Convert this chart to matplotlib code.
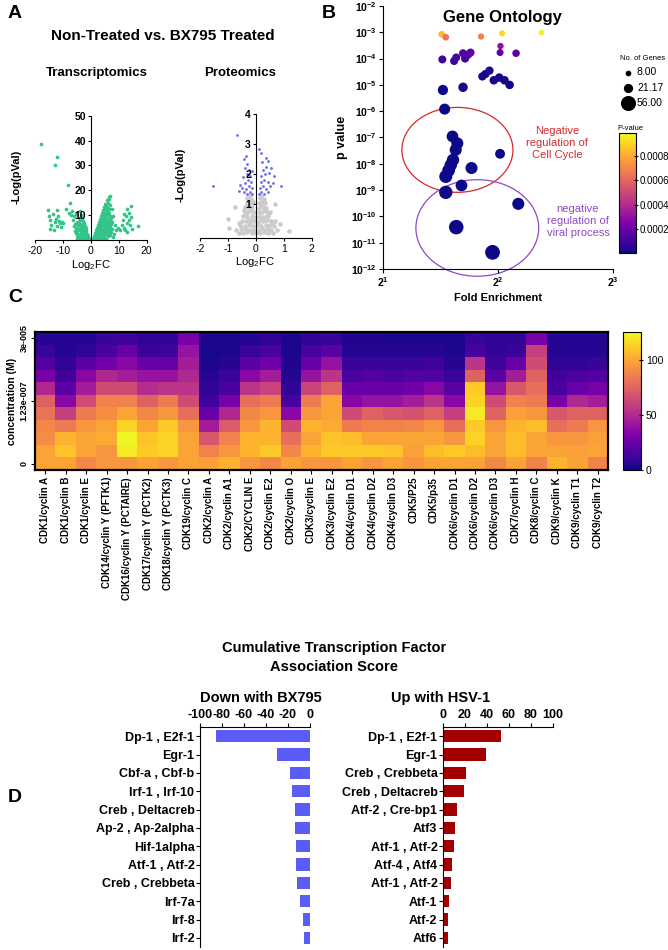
import matplotlib
matplotlib.use('Agg')
import matplotlib.pyplot as plt
import numpy as np
from matplotlib.patches import Ellipse

plt.rcParams['font.family'] = ['Liberation Sans', 'DejaVu Sans']
plt.rcParams['mathtext.fontset'] = 'custom'
plt.rcParams['mathtext.rm'] = 'Liberation Sans'
plt.rcParams['mathtext.bf'] = 'Liberation Sans:bold'
plt.rcParams['axes.unicode_minus'] = False

# ---------------- data ----------------
# A: transcriptomics volcano (log2FC, -log p)
tx_green = [
    (0.9, 0.3), (1.6, 0.8), (2.4, 0.4), (3.1, 1.0), (3.9, 0.6), (4.8, 0.9), (5.6, 0.5),
    (1.2, 1.6), (2.0, 1.9), (2.8, 1.4), (3.5, 2.1), (4.3, 1.7), (5.1, 2.2), (6.0, 1.5), (6.9, 1.9),
    (1.5, 2.8), (2.3, 3.1), (3.1, 2.6), (3.9, 3.3), (4.7, 2.9), (5.5, 3.4), (6.3, 2.7), (7.3, 3.2),
    (1.9, 3.9), (2.7, 4.3), (3.5, 3.8), (4.3, 4.5), (5.1, 4.0), (5.9, 4.6), (6.7, 4.1), (7.7, 4.4),
    (2.2, 5.0), (3.0, 5.4), (3.8, 4.9), (4.6, 5.6), (5.4, 5.1), (6.2, 5.7), (7.0, 5.3),
    (2.5, 6.1), (3.3, 6.5), (4.1, 6.0), (4.9, 6.7), (5.7, 6.2), (6.5, 6.8), (7.3, 6.4),
    (2.9, 7.3), (3.7, 7.6), (4.5, 7.1), (5.3, 7.8), (6.1, 7.3), (6.9, 7.9),
    (3.2, 8.4), (4.0, 8.7), (4.8, 8.2), (5.6, 8.9), (6.4, 8.4), (7.1, 9.0),
    (3.6, 9.5), (4.4, 9.9), (5.2, 9.4), (6.0, 10.1), (6.8, 9.6),
    (3.9, 10.7), (4.7, 11.0), (5.5, 10.6), (6.3, 11.2),
    (4.3, 11.9), (5.1, 12.3), (5.9, 11.8), (6.6, 12.4),
    (4.8, 13.2), (5.6, 13.6), (6.3, 13.0),
    (5.2, 14.3), (6.0, 14.8), (6.7, 14.2),
    (5.9, 15.9), (6.6, 16.4), (7.0, 17.8), (6.4, 17.2),
    (8.3, 2.4), (9.1, 3.9), (8.6, 6.1), (7.9, 9.6), (7.6, 12.6), (9.6, 4.8), (8.0, 1.2),
    (1.3, 0.9), (2.1, 2.4), (2.9, 3.6), (3.4, 5.9), (4.2, 8.0), (4.6, 10.4), (5.0, 3.1),
    (5.8, 7.0), (6.5, 10.8), (7.5, 7.4), (2.6, 0.9), (4.0, 2.4), (5.3, 5.9), (6.2, 4.1),
    (-0.8, 0.4), (-1.6, 0.7), (-2.4, 0.3), (-3.2, 0.8), (-4.1, 0.5), (-5.0, 0.6),
    (-1.0, 1.5), (-1.8, 1.8), (-2.6, 1.3), (-3.4, 1.9), (-4.2, 1.4), (-5.1, 1.7),
    (-1.3, 2.6), (-2.1, 2.9), (-2.9, 2.4), (-3.7, 3.0), (-4.5, 2.5), (-5.4, 2.8),
    (-1.6, 3.6), (-2.4, 3.9), (-3.2, 3.4), (-4.0, 4.0), (-4.8, 3.5), (-5.8, 3.8),
    (-1.9, 4.7), (-2.7, 4.4), (-3.5, 4.9), (-4.3, 4.5), (-5.2, 4.8),
    (-2.2, 5.6), (-3.0, 5.9), (-3.8, 5.4), (-4.6, 6.0), (-6.0, 5.5),
    (-2.6, 6.7), (-3.4, 6.4), (-4.2, 7.0), (-5.5, 6.6),
    (-2.9, 7.6), (-3.8, 7.9), (-4.8, 7.4), (-6.4, 8.2),
    (-3.3, 8.7), (-4.4, 9.0), (-5.9, 9.6),
    (-3.6, 10.2), (-5.2, 10.5), (-7.0, 10.0), (-4.0, 11.6), (-6.6, 11.8),
    (-1.2, 0.9), (-2.0, 2.3), (-2.8, 3.3), (-3.1, 5.1), (-3.9, 6.6), (-1.4, 0.2), (-3.6, 1.1),
    (-15.5, 12.2), (-14.8, 8.1), (-14.1, 6.0), (-13.5, 10.6), (-13.0, 7.2), (-12.5, 8.6),
    (-12.0, 5.6), (-11.5, 7.6), (-11.0, 6.9), (-10.4, 7.4), (-9.9, 7.0), (-12.2, 12.1),
    (-14.5, 4.6), (-13.2, 4.0), (-15.0, 9.5), (-11.8, 9.8), (-10.8, 5.1),
    (-18.0, 38.6), (-12.0, 33.2), (-12.8, 30.1), (-8.2, 22.0), (-7.3, 15.0), (-8.8, 12.6), (-7.8, 10.8),
    (11.0, 6.2), (11.5, 8.0), (12.0, 5.0), (12.5, 9.5), (13.0, 7.0), (13.5, 11.0), (14.0, 6.1),
    (14.2, 13.6), (14.5, 9.1), (12.1, 4.0), (13.0, 3.4), (11.8, 10.5), (16.8, 5.6), (14.8, 4.5),
    (10.5, 4.2), (13.8, 8.2), (12.8, 12.3),
]
tx_grey = [(-0.6, 0.2), (0.3, 0.3), (-0.2, 0.6), (0.6, 0.8), (-1.1, 0.1), (1.2, 0.2),
           (0.0, 0.1), (-0.4, 1.0), (0.8, 0.5), (-1.5, 0.3)]

# A: proteomics volcano
pr_grey = [
    (-0.6, 0.05), (-0.45, 0.04), (-0.3, 0.07), (-0.15, 0.03), (0.0, 0.06), (0.15, 0.04), (0.3, 0.08), (0.45, 0.05), (0.6, 0.03),
    (-0.7, 0.16), (-0.5, 0.14), (-0.35, 0.17), (-0.2, 0.13), (-0.05, 0.16), (0.1, 0.14), (0.25, 0.17), (0.4, 0.15), (0.55, 0.13), (0.75, 0.16),
    (-0.55, 0.3), (-0.4, 0.28), (-0.25, 0.32), (-0.1, 0.29), (0.05, 0.31), (0.2, 0.28), (0.35, 0.32), (0.5, 0.3), (0.65, 0.27),
    (-0.5, 0.45), (-0.35, 0.43), (-0.2, 0.47), (-0.05, 0.44), (0.1, 0.46), (0.25, 0.43), (0.4, 0.47), (0.55, 0.44),
    (-0.45, 0.6), (-0.3, 0.58), (-0.15, 0.62), (0.0, 0.59), (0.15, 0.61), (0.3, 0.58), (0.45, 0.62),
    (-0.4, 0.75), (-0.28, 0.73), (-0.15, 0.77), (-0.05, 0.74), (0.1, 0.76), (0.22, 0.73), (0.35, 0.77), (0.5, 0.74),
    (-0.38, 0.9), (-0.25, 0.88), (-0.12, 0.92), (0.12, 0.89), (0.25, 0.91), (0.38, 0.88),
    (-0.33, 1.05), (-0.2, 1.03), (-0.1, 1.07), (0.1, 1.04), (0.2, 1.06), (0.33, 1.03),
    (-0.3, 1.2), (-0.18, 1.18), (0.15, 1.21), (0.28, 1.19),
    (-0.22, 1.3), (0.2, 1.28),
    (-0.52, 0.22), (0.58, 0.36), (-0.22, 0.38), (0.18, 0.52), (-0.36, 0.68), (0.32, 0.84),
    (-0.18, 0.82), (0.06, 0.38), (-0.08, 0.52), (0.42, 0.22), (-0.62, 0.38), (0.7, 0.45),
    (-0.27, 0.97), (0.18, 0.97), (-0.24, 1.12), (0.26, 1.12), (-0.42, 0.82), (0.44, 0.68),
    (-1.0, 0.5), (0.85, 0.35), (-0.95, 0.2), (1.2, 0.1), (-0.75, 0.9), (0.7, 1.0),
]
pr_blue = [
    (-0.12, 1.35), (-0.2, 1.42), (-0.3, 1.35), (-0.42, 1.4), (-0.15, 1.55), (-0.25, 1.6),
    (-0.35, 1.5), (-0.5, 1.55), (-0.18, 1.75), (-0.28, 1.8), (-0.4, 1.7), (-0.55, 1.65),
    (-0.2, 1.95), (-0.32, 2.0), (-0.45, 1.9), (-0.25, 2.15), (-0.38, 2.2), (-0.3, 2.35),
    (-0.42, 2.5), (-0.35, 2.6), (-0.15, 2.1), (-0.6, 1.45), (-0.68, 3.3), (-1.54, 1.62),
    (0.12, 1.35), (0.2, 1.42), (0.3, 1.35), (0.42, 1.4), (0.15, 1.55), (0.25, 1.6),
    (0.38, 1.5), (0.5, 1.6), (0.18, 1.75), (0.3, 1.8), (0.42, 1.75), (0.6, 1.7),
    (0.2, 1.95), (0.32, 2.0), (0.48, 2.05), (0.25, 2.15), (0.38, 2.25), (0.55, 2.2),
    (0.22, 2.4), (0.35, 2.55), (0.45, 2.45), (0.12, 2.86), (0.2, 2.7), (0.9, 1.6), (0.65, 1.95),
]

# B: gene ontology bubbles
go_fold = [2.85, 2.92, 3.61, 4.10, 5.20, 4.06, 4.05, 4.46, 2.86, 3.07, 3.11, 3.24, 3.28, 3.34, 3.39,
           3.64, 3.71, 3.80, 3.90, 4.03, 4.16, 4.29, 2.87, 3.24, 2.90,
           3.04, 3.13, 3.10, 4.05, 3.05, 3.01, 3.41, 2.97, 2.92, 3.21, 2.92,
           4.52, 3.11, 3.87]
go_p = [8.4e-4, 6.5e-4, 6.9e-4, 9.1e-4, 9.7e-4, 3.0e-4, 1.7e-4, 1.6e-4, 9.3e-5, 8.1e-5, 1.1e-4, 1.6e-4, 1.0e-4, 1.4e-4, 1.7e-4,
        2.1e-5, 2.6e-5, 3.5e-5, 1.5e-5, 1.9e-5, 1.5e-5, 1.0e-5, 6.4e-6, 8.1e-6, 1.2e-6,
        1.1e-7, 6.0e-8, 3.4e-8, 2.4e-8, 1.4e-8, 9.0e-9, 6.9e-9, 5.6e-9, 3.3e-9, 1.5e-9, 8.2e-10,
        3.0e-10, 3.9e-11, 4.3e-12]
go_genes = [11, 11, 10, 9, 8, 10, 12, 14, 16, 16, 16, 16, 16, 16, 16,
            17, 17, 17, 18, 18, 18, 18, 26, 22, 30,
            34, 36, 36, 24, 38, 38, 36, 40, 42, 34, 44,
            36, 52, 54]
legend_genes = [8.00, 21.17, 56.00]

# C: kinase heatmap, one list per kinase, rows from 3e-5 M down to 0
kinases = ['CDK1/cyclin A', 'CDK1/cyclin B', 'CDK1/cyclin E', 'CDK14/cyclin Y (PFTK1)',
           'CDK16/cyclin Y (PCTAIRE)', 'CDK17/cyclin Y (PCTK2)', 'CDK18/cyclin Y (PCTK3)',
           'CDK19/cyclin C', 'CDK2/cyclin A', 'CDK2/cyclin A1', 'CDK2/CYCLIN E', 'CDK2/cyclin E2',
           'CDK2/cyclin O', 'CDK3/cyclin E', 'CDK3/cyclin E2', 'CDK4/cyclin D1', 'CDK4/cyclin D2',
           'CDK4/cyclin D3', 'CDK5/P25', 'CDK5/p35', 'CDK6/cyclin D1', 'CDK6/cyclin D2',
           'CDK6/cyclin D3', 'CDK7/cyclin H', 'CDK8/cyclin C', 'CDK9/cyclin K', 'CDK9/cyclin T1',
           'CDK9/cyclin T2']
activity = [
    [5, 10, 18, 30, 50, 75, 82, 90, 92, 100, 100],
    [5, 5, 8, 12, 20, 35, 60, 85, 105, 110, 100],
    [5, 8, 20, 35, 45, 65, 85, 95, 100, 100, 90],
    [10, 15, 28, 50, 65, 88, 92, 100, 102, 95, 95],
    [12, 25, 35, 45, 65, 88, 100, 115, 125, 122, 95],
    [8, 10, 25, 40, 52, 75, 90, 100, 110, 112, 100],
    [8, 12, 25, 40, 55, 85, 95, 112, 115, 115, 95],
    [30, 40, 45, 50, 55, 65, 80, 95, 100, 100, 100],
    [3, 2, 3, 5, 8, 12, 25, 45, 70, 88, 98],
    [3, 3, 5, 10, 15, 30, 50, 72, 88, 95, 105],
    [5, 10, 20, 35, 55, 80, 90, 95, 105, 105, 95],
    [8, 15, 28, 45, 62, 85, 95, 105, 105, 112, 90],
    [3, 3, 4, 5, 8, 15, 35, 65, 80, 90, 100],
    [8, 15, 25, 40, 62, 85, 95, 105, 100, 105, 95],
    [10, 20, 40, 55, 75, 100, 100, 102, 110, 112, 95],
    [4, 5, 10, 15, 25, 35, 65, 85, 108, 112, 100],
    [4, 5, 10, 18, 25, 40, 75, 88, 100, 112, 95],
    [3, 5, 10, 15, 25, 40, 70, 88, 100, 110, 100],
    [3, 5, 10, 18, 28, 45, 68, 90, 100, 98, 95],
    [3, 5, 12, 18, 35, 55, 75, 95, 100, 108, 100],
    [3, 3, 5, 10, 20, 35, 60, 80, 95, 112, 100],
    [10, 15, 55, 75, 112, 115, 122, 112, 115, 108, 100],
    [8, 8, 12, 20, 40, 65, 75, 95, 100, 100, 90],
    [8, 10, 25, 45, 70, 88, 98, 105, 108, 108, 100],
    [30, 60, 65, 75, 80, 85, 95, 108, 100, 100, 88],
    [5, 5, 8, 12, 15, 30, 70, 80, 95, 100, 105],
    [5, 5, 8, 15, 25, 50, 75, 85, 95, 98, 100],
    [5, 5, 10, 18, 30, 45, 75, 95, 98, 100, 88],
]
conc_ticks = [0, 5, 10]
conc_labels = ['3e-005', '1.23e-007', '0']

# D: transcription factor scores
down_tf = ['Dp-1 , E2f-1', 'Egr-1', 'Cbf-a , Cbf-b', 'Irf-1 , Irf-10', 'Creb , Deltacreb',
           'Ap-2 , Ap-2alpha', 'Hif-1alpha', 'Atf-1 , Atf-2', 'Creb , Crebbeta', 'Irf-7a',
           'Irf-8', 'Irf-2']
down_score = [-85.5, -29.7, -18.2, -16.4, -13.6, -13.6, -12.7, -12.7, -11.8, -9.1, -6.7, -5.5]
up_tf = ['Dp-1 , E2f-1', 'Egr-1', 'Creb , Crebbeta', 'Creb , Deltacreb', 'Atf-2 , Cre-bp1',
         'Atf3', 'Atf-1 , Atf-2', 'Atf-4 , Atf4', 'Atf-1 , Atf-2', 'Atf-1', 'Atf-2', 'Atf6']
up_score = [52.4, 38.8, 20.6, 18.8, 12.4, 10.6, 9.7, 7.9, 7.0, 5.2, 4.2, 4.2]

# ---------------- figure ----------------
W, H = 668, 950
fig = plt.figure(figsize=(W / 100, H / 100), dpi=100)


def px_axes(l, t, r, b):
    return fig.add_axes([l / W, 1 - b / H, (r - l) / W, (b - t) / H])


def ftext(x, y, s, **kw):
    fig.text(x / W, 1 - y / H, s, **kw)


# panel letters
for lab, x, y in [('A', 8, 13), ('B', 322, 13), ('C', 8, 298), ('D', 8, 798)]:
    ftext(x, y, lab, fontsize=14, fontweight='bold', va='center', ha='left')

# ----- A -----
ftext(163, 36, 'Non-Treated vs. BX795 Treated', fontsize=11, fontweight='bold', ha='center', va='center')
ftext(97, 73, 'Transcriptomics', fontsize=9.5, fontweight='bold', ha='center', va='center')
ftext(240, 73, 'Proteomics', fontsize=9.5, fontweight='bold', ha='center', va='center')


def volcano_axes(ax, xlim, ylim, xticks, yticks):
    ax.set_xlim(*xlim)
    ax.set_ylim(*ylim)
    ax.spines['top'].set_visible(False)
    ax.spines['right'].set_visible(False)
    ax.spines['left'].set_position(('data', 0))
    for s in ['left', 'bottom']:
        ax.spines[s].set_linewidth(0.8)
    ax.set_xticks(xticks)
    ax.set_yticks(yticks)
    ax.tick_params(axis='x', labelsize=7.5, length=2.5, width=0.8, pad=1.5)
    ax.tick_params(axis='y', labelsize=7.5, length=2.5, width=0.8, pad=1)
    for t in ax.get_yticklabels():
        t.set_fontweight('bold')
    ax.set_facecolor('none')


ax_t = px_axes(35, 115.7, 146.7, 240)
g = np.array(tx_green)
gr = np.array(tx_grey)
ax_t.scatter(gr[:, 0], gr[:, 1], s=6, color='#c8c8c8', linewidths=0)
ax_t.scatter(g[:, 0], g[:, 1], s=7, color='#33c48a', linewidths=0)
volcano_axes(ax_t, (-20, 20), (0, 50), [-20, -10, 0, 10, 20], [10, 20, 30, 40, 50])
ftext(91, 265, 'Log$_2$FC', fontsize=8, ha='center', va='center')
ftext(17, 177, '-Log(pVal)', fontsize=8, fontweight='bold', rotation=90, ha='center', va='center')

ax_p = px_axes(200, 114.3, 311.7, 238)
pg = np.array(pr_grey)
pb = np.array(pr_blue)
ax_p.scatter(pg[:, 0], pg[:, 1], s=11, color='#cbcbcb', linewidths=0)
ax_p.scatter(pb[:, 0], pb[:, 1], s=4, color='#6b6bf2', linewidths=0)
volcano_axes(ax_p, (-2, 2), (-0.12, 4), [-2, -1, 0, 1, 2], [1, 2, 3, 4])
ftext(255, 262, 'Log$_2$FC', fontsize=8, ha='center', va='center')
ftext(181, 175, '-Log(pVal)', fontsize=8, fontweight='bold', rotation=90, ha='center', va='center')

# ----- B -----
ax_b = px_axes(383, 6, 613, 269)
sc = ax_b.scatter(go_fold, go_p, s=np.array(go_genes) * 2.1, c=go_p, cmap='plasma',
                  vmin=0, vmax=0.00099, linewidths=0, zorder=3)
ax_b.set_xscale('log', base=2)
ax_b.set_yscale('log')
ax_b.set_xlim(2, 8)
ax_b.set_ylim(1e-12, 1e-2)
ax_b.set_xticks([2, 4, 8])
ax_b.set_xticklabels([r'$\mathbf{2^{1}}$', r'$\mathbf{2^{2}}$', r'$\mathbf{2^{3}}$'])
yt = [10.0 ** e for e in range(-12, -1)]
ax_b.set_yticks(yt)
ax_b.set_yticklabels([r'$\mathbf{10^{%d}}$' % e for e in range(-12, -1)])
ax_b.minorticks_off()
ax_b.tick_params(labelsize=7.5, length=3, width=0.8, pad=1.5)
ax_b.spines['top'].set_visible(False)
ax_b.spines['right'].set_visible(False)
ax_b.set_facecolor('none')
ax_b.set_xlabel('Fold Enrichment', fontsize=8, fontweight='bold', labelpad=3)
ax_b.set_ylabel('p value', fontsize=9, fontweight='bold', labelpad=2)
ax_b.text(0.52, 0.985, 'Gene Ontology', transform=ax_b.transAxes, fontsize=12,
          fontweight='bold', ha='center', va='top')
ax_b.add_patch(Ellipse((0.3235, 0.453), 0.483, 0.323, transform=ax_b.transAxes,
                       fill=False, edgecolor='#d42a2a', linewidth=0.9, clip_on=False))
ax_b.add_patch(Ellipse((0.41, 0.156), 0.534, 0.367, transform=ax_b.transAxes,
                       fill=False, edgecolor='#8e48c8', linewidth=0.9, clip_on=False))
ftext(557, 143, 'Negative\nregulation of\nCell Cycle', fontsize=8, color='#d42a2a',
      ha='center', va='center', linespacing=1.25)
ftext(578, 221, 'negative\nregulation of\nviral process', fontsize=8, color='#8e48c8',
      ha='center', va='center', linespacing=1.25)

handles = [ax_b.scatter([], [], s=n * 2.1, color='black', linewidths=0) for n in legend_genes]
leg = fig.legend(handles, ['%.2f' % n for n in legend_genes], loc='upper left',
                 bbox_to_anchor=(615 / W, 1 - 50 / H), frameon=False, title='No. of Genes',
                 title_fontsize=5.5, fontsize=7.5, handletextpad=0.3, labelspacing=0.5,
                 borderpad=0, handlelength=1.1)

cax_b = px_axes(619, 133, 636, 253)
cb = fig.colorbar(sc, cax=cax_b)
cb.set_ticks([0.0002, 0.0004, 0.0006, 0.0008])
cb.set_ticklabels(['0.0002', '0.0004', '0.0006', '0.0008'])
cb.ax.tick_params(labelsize=7, length=3, width=0.8, direction='inout', pad=1)
cb.outline.set_linewidth(0.8)
ftext(630, 128, 'P-value', fontsize=5.5, ha='center', va='center')

# ----- C -----
ax_c = px_axes(35, 332, 608, 470)
mat = np.array(activity).T
im = ax_c.imshow(mat, aspect='auto', cmap='plasma', vmin=0, vmax=126, interpolation='nearest')
ax_c.set_xticks(range(len(kinases)))
ax_c.set_xticklabels(kinases, rotation=90, fontsize=7, fontweight='bold')
ax_c.set_yticks(conc_ticks)
ax_c.set_yticklabels(conc_labels, rotation=90, va='center', fontsize=6.5, fontweight='bold')
ax_c.tick_params(axis='x', length=3, width=0.8, pad=2)
ax_c.tick_params(axis='y', length=3, width=0.8, pad=1.5)
for s in ax_c.spines.values():
    s.set_linewidth(1.6)
ax_c.set_ylabel('concentration (M)', fontsize=7.5, fontweight='bold', labelpad=2)

cax_c = px_axes(623, 332, 641, 470)
cbc = fig.colorbar(im, cax=cax_c)
cbc.set_ticks([0, 50, 100])
cbc.ax.tick_params(labelsize=7.5, length=3, width=0.8, direction='inout', pad=2)
cbc.outline.set_linewidth(0.8)

# ----- D -----
ftext(334, 648, 'Cumulative Transcription Factor', fontsize=10.5, fontweight='bold', ha='center', va='center')
ftext(334, 667, 'Association Score', fontsize=10.5, fontweight='bold', ha='center', va='center')
ftext(261, 698, 'Down with BX795', fontsize=10.5, fontweight='bold', ha='center', va='center')
ftext(441, 698, 'Up with HSV-1', fontsize=10.5, fontweight='bold', ha='center', va='center')


def tf_axes(ax, names, vals, color, xlim, xticks):
    y = np.arange(len(names))
    ax.barh(y, vals, height=0.68, color=color)
    ax.set_ylim(len(names) - 0.5, -0.5)
    ax.set_xlim(*xlim)
    ax.set_yticks(y)
    ax.set_yticklabels(names, fontsize=9, fontweight='bold')
    ax.set_xticks(xticks)
    ax.xaxis.tick_top()
    ax.tick_params(axis='x', labelsize=9, length=3, width=0.8, pad=1)
    ax.tick_params(axis='y', length=3, width=0.8, pad=1)
    for t in ax.get_xticklabels():
        t.set_fontweight('bold')
    ax.spines['bottom'].set_visible(False)
    ax.spines['right'].set_visible(False)
    for s in ['top', 'left']:
        ax.spines[s].set_linewidth(0.8)


ax_d1 = px_axes(200, 727, 310, 947)
tf_axes(ax_d1, down_tf, down_score, '#5b5bf5', (-100, 0), [-100, -80, -60, -40, -20, 0])
ax_d2 = px_axes(443, 727, 553, 947)
tf_axes(ax_d2, up_tf, up_score, '#a30000', (0, 100), [0, 20, 40, 60, 80, 100])

fig.savefig('out.png', dpi=100)
